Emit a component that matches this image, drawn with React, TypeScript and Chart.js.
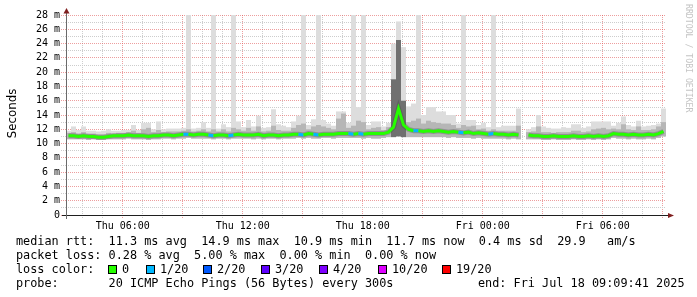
import React, { useEffect, useRef } from "react";
import { Chart, registerables } from "chart.js";

Chart.register(...registerables);

// ---------- time axis (hours since Thu 00:00) ----------
const START_HOUR = 3 + 9 / 60 + 41 / 3600; // Thu 03:09:41
const SPAN_HOURS = 30;
const STEP_HOURS = 0.25; // one column = 15 minutes

const xTickHours = [6, 12, 18, 24, 30];
const xTickLabels = ["Thu 06:00", "Thu 12:00", "Thu 18:00", "Fri 00:00", "Fri 06:00"];
const yTickValues = [0, 2, 4, 6, 8, 10, 12, 14, 16, 18, 20, 22, 24, 26, 28];
const yTickLabels = ["0", "2 m", "4 m", "6 m", "8 m", "10 m", "12 m", "14 m", "16 m", "18 m", "20 m", "22 m", "24 m", "26 m", "28 m"];

// ---------- data (ms) ----------
const medianMs = [
  11.1, 11.1, 11.0, 11.1, 11.0, 11.0, 10.9, 10.9, 11.0, 11.1,
  11.1, 11.1, 11.2, 11.1, 11.1, 11.1, 11.0, 11.1, 11.1, 11.2,
  11.2, 11.1, 11.2, 11.3, 11.3, 11.2, 11.3, 11.3, 11.2, 11.1,
  11.2, 11.2, 11.1, 11.2, 11.3, 11.2, 11.2, 11.2, 11.3, 11.1,
  11.2, 11.2, 11.1, 11.2, 11.2, 11.3, 11.3, 11.2, 11.4, 11.3,
  11.2, 11.3, 11.3, 11.3, 11.4, 11.4, 11.4, 11.3, 11.4, 11.3,
  11.4, 11.4, 11.4, 11.4, 11.6, 12.3, 14.9, 12.6, 12.0, 11.8,
  11.8, 11.7, 11.8, 11.7, 11.8, 11.7, 11.6, 11.7, 11.6, 11.5,
  11.6, 11.4, 11.5, 11.4, 11.3, 11.4, 11.3, 11.3, 11.2, 11.3,
  11.2, null, 11.2, 11.1, 11.1, 11.0, 11.0, 11.1, 11.0, 11.0,
  11.0, 11.1, 11.0, 11.0, 11.1, 11.0, 11.1, 11.0, 11.1, 11.4,
  11.3, 11.3, 11.2, 11.3, 11.2, 11.2, 11.3, 11.2, 11.4, 11.7,
];

const lossCount = [
  0, 0, 0, 0, 0, 0, 0, 0, 0, 0,
  0, 0, 0, 0, 0, 0, 0, 0, 0, 0,
  0, 0, 0, 0, 1, 0, 0, 0, 0, 1,
  0, 0, 0, 1, 0, 0, 0, 0, 0, 0,
  0, 0, 0, 0, 0, 0, 0, 1, 0, 0,
  1, 0, 0, 0, 0, 0, 0, 1, 0, 1,
  0, 0, 0, 0, 0, 0, 0, 0, 0, 0,
  1, 0, 0, 0, 0, 0, 0, 0, 0, 1,
  0, 0, 0, 0, 0, 1, 0, 0, 0, 0,
  0, null, 0, 0, 0, 0, 0, 0, 0, 0,
  0, 0, 0, 0, 0, 0, 0, 0, 0, 0,
  0, 0, 0, 0, 0, 0, 0, 0, 0, 0,
];

const pingMin = [
  10.6, 10.6, 10.6, 10.6, 10.5, 10.6, 10.5, 10.5, 10.6, 10.6,
  10.6, 10.6, 10.7, 10.6, 10.6, 10.6, 10.5, 10.6, 10.6, 10.7,
  10.7, 10.6, 10.7, 10.7, 10.8, 10.7, 10.7, 10.7, 10.7, 10.6,
  10.7, 10.7, 10.6, 10.7, 10.7, 10.7, 10.7, 10.6, 10.7, 10.6,
  10.7, 10.7, 10.6, 10.7, 10.7, 10.7, 10.8, 10.7, 10.8, 10.7,
  10.7, 10.8, 10.8, 10.7, 10.8, 10.8, 10.8, 10.8, 10.8, 10.7,
  10.8, 10.7, 10.7, 10.8, 10.9, 10.9, 11.0, 10.9, 10.9, 10.9,
  10.9, 10.9, 10.9, 10.9, 10.9, 10.9, 10.8, 10.9, 10.8, 10.8,
  10.8, 10.7, 10.8, 10.7, 10.7, 10.7, 10.7, 10.7, 10.6, 10.7,
  10.6, null, 10.6, 10.6, 10.6, 10.5, 10.5, 10.6, 10.5, 10.5,
  10.5, 10.6, 10.5, 10.5, 10.6, 10.5, 10.6, 10.5, 10.6, 10.8,
  10.7, 10.7, 10.6, 10.7, 10.6, 10.6, 10.7, 10.6, 10.8, 11.0,
];

const pingQ3 = [
  11.5, 11.6, 11.4, 11.6, 11.4, 11.4, 11.3, 11.3, 11.5, 11.4,
  11.5, 11.5, 11.6, 11.8, 11.5, 12.0, 12.2, 11.6, 11.9, 11.6,
  11.7, 11.7, 11.7, 11.8, 12.0, 11.7, 11.8, 12.0, 11.7, 12.0,
  11.7, 12.0, 11.7, 12.2, 12.0, 11.8, 12.2, 11.8, 12.4, 11.7,
  11.8, 12.5, 11.9, 11.8, 11.8, 12.2, 12.6, 12.8, 12.0, 12.4,
  12.6, 12.4, 12.2, 12.0, 13.5, 14.2, 12.2, 12.5, 13.2, 13.0,
  12.0, 12.2, 12.3, 11.9, 12.3, 19.0, 24.5, 16.0, 13.0, 13.2,
  13.5, 12.8, 13.2, 13.0, 12.9, 12.8, 12.8, 12.6, 12.2, 12.6,
  12.4, 12.5, 12.0, 12.1, 11.8, 12.0, 11.8, 11.8, 11.8, 11.8,
  12.5, null, 11.6, 11.7, 12.4, 11.6, 11.6, 11.5, 11.6, 11.6,
  11.6, 11.8, 11.8, 11.6, 11.7, 12.0, 12.1, 12.2, 12.0, 12.1,
  12.0, 12.7, 12.0, 11.9, 12.4, 11.9, 11.9, 12.0, 12.4, 13.0,
];

const pingMax = [
  11.8, 12.4, 11.9, 12.4, 11.8, 11.8, 11.7, 11.8, 12.0, 11.8,
  11.8, 11.9, 11.9, 12.6, 11.9, 12.9, 12.9, 12.0, 13.1, 12.0,
  12.1, 12.1, 12.1, 12.2, 28.5, 12.1, 12.2, 13.0, 12.2, 28.5,
  12.1, 12.7, 12.3, 28.5, 13.1, 12.3, 13.3, 12.4, 13.9, 12.2,
  12.3, 14.8, 12.7, 12.5, 12.3, 13.1, 13.9, 28.5, 12.6, 13.4,
  28.5, 13.3, 12.8, 12.5, 14.5, 14.5, 12.9, 28.5, 15.1, 28.5,
  12.6, 13.1, 13.1, 12.4, 12.9, 24.0, 27.1, 23.5, 15.2, 15.6,
  28.5, 14.0, 15.1, 15.1, 14.5, 14.5, 14.0, 14.0, 12.8, 28.5,
  13.3, 13.3, 12.6, 12.9, 12.3, 28.5, 12.3, 12.5, 12.5, 12.5,
  14.9, null, 12.0, 12.3, 14.0, 12.4, 12.2, 12.1, 12.1, 12.3,
  12.2, 12.7, 12.7, 12.2, 12.4, 13.1, 13.1, 13.1, 13.1, 12.5,
  12.9, 13.8, 12.6, 12.4, 13.2, 12.4, 12.5, 12.6, 12.8, 14.9,
];

// ---------- legend ----------
const lossThresholds = [0, 1, 2, 3, 4, 10, 19];
const lossLabels = ["0", "1/20", "2/20", "3/20", "4/20", "10/20", "19/20"];
const lossColors = ["#26ff00", "#00b8ff", "#0059ff", "#5e00ff", "#7e00ff", "#dd00ff", "#ff0000"];

const statLine1 = "median rtt:  11.3 ms avg  14.9 ms max  10.9 ms min  11.7 ms now  0.4 ms sd  29.9   am/s";
const statLine2 = "packet loss: 0.28 % avg  5.00 % max  0.00 % min  0.00 % now";
const lossTitle = "loss color:";
const probeLine = "probe:       20 ICMP Echo Pings (56 Bytes) every 300s";
const endLine = "end: Fri Jul 18 09:09:41 2025";
const yTitle = "Seconds";
const watermark = "RRDTOOL / TOBI OETIKER";

const MONO = "'DejaVu Sans Mono', monospace";
const SANS = "'DejaVu Sans', sans-serif";
const GRID_MINOR = "#cdcdcd";
const GRID_MAJOR = "rgba(222,79,79,0.55)";

function lossColor(n: number | null): string {
  let c = lossColors[0];
  if (n == null) return c;
  for (let k = 0; k < lossThresholds.length; k++) if (n >= lossThresholds[k]) c = lossColors[k];
  return c;
}

const decorPlugin = {
  id: "smokepingDecor",
  afterDraw(chart: any) {
    const { ctx, chartArea: a } = chart;
    ctx.save();
    // axes
    ctx.lineWidth = 1;
    ctx.strokeStyle = "#1f1f1f";
    ctx.beginPath();
    ctx.moveTo(a.left - 4, a.bottom + 0.5);
    ctx.lineTo(a.right + 2, a.bottom + 0.5);
    ctx.stroke();
    ctx.strokeStyle = "#6a6a6a";
    ctx.beginPath();
    ctx.moveTo(a.left + 0.5, a.bottom + 4);
    ctx.lineTo(a.left + 0.5, a.top - 2);
    ctx.stroke();
    // arrows
    ctx.fillStyle = "rgb(128,31,31)";
    ctx.beginPath();
    ctx.moveTo(a.right + 2, a.bottom - 2);
    ctx.lineTo(a.right + 8, a.bottom + 0.5);
    ctx.lineTo(a.right + 2, a.bottom + 3);
    ctx.closePath();
    ctx.fill();
    ctx.beginPath();
    ctx.moveTo(a.left - 2.5, a.top - 1.5);
    ctx.lineTo(a.left + 0.5, a.top - 7);
    ctx.lineTo(a.left + 3.5, a.top - 1.5);
    ctx.closePath();
    ctx.fill();

    // y title
    ctx.save();
    ctx.fillStyle = "#000";
    ctx.font = `11.8px ${SANS}`;
    ctx.translate(15.5, 113.5);
    ctx.rotate(-Math.PI / 2);
    ctx.textAlign = "center";
    ctx.textBaseline = "alphabetic";
    ctx.fillText(yTitle, 0, 0);
    ctx.restore();

    // watermark
    ctx.save();
    ctx.fillStyle = "#c4c4c4";
    ctx.font = `8.2px ${MONO}`;
    ctx.translate(688, 4);
    ctx.rotate(Math.PI / 2);
    ctx.textAlign = "left";
    ctx.textBaseline = "middle";
    ctx.fillText(watermark, 0, 0);
    ctx.restore();

    // legend
    ctx.fillStyle = "#000";
    ctx.font = `11.83px ${MONO}`;
    ctx.textAlign = "left";
    ctx.textBaseline = "alphabetic";
    ctx.fillText(statLine1, 16, 245);
    ctx.fillText(statLine2, 16, 259);
    ctx.fillText(lossTitle, 16, 273);
    ctx.fillText(probeLine, 16, 287);
    ctx.fillText(endLine, 478, 287);
    const boxX = [108, 146, 203, 261, 319, 378, 442];
    for (let k = 0; k < lossLabels.length; k++) {
      ctx.fillStyle = lossColors[k];
      ctx.fillRect(boxX[k] + 1, 266, 7, 7);
      ctx.strokeStyle = "#000";
      ctx.lineWidth = 1;
      ctx.strokeRect(boxX[k] + 0.5, 265.5, 8, 8);
      ctx.fillStyle = "#000";
      ctx.fillText(lossLabels[k], boxX[k] + 14, 273);
    }
    ctx.restore();
  },
};

export default function App() {
  const ref = useRef<HTMLCanvasElement>(null);

  useEffect(() => {
    document.body.style.margin = "0";
    const canvas = ref.current;
    if (!canvas) return;

    const stepHour = (i: number) => START_HOUR + (i + 0.5) * STEP_HOURS;
    const band = (lo: (number | null)[], hi: (number | null)[]) => {
      const out: any[] = [];
      lo.forEach((v, i) => {
        if (v != null && hi[i] != null) out.push({ x: stepHour(i), y: [v, hi[i]] });
      });
      return out;
    };
    const medianPts = medianMs.map((v, i) => ({ x: stepHour(i), y: v }));

    const gridHours: number[] = [];
    for (let h = Math.ceil(START_HOUR); h <= START_HOUR + SPAN_HOURS; h++) gridHours.push(h);
    const gridMs: number[] = [];
    for (let v = 0; v <= 28; v++) gridMs.push(v);

    const chart = new Chart(canvas, {
      type: "bar",
      data: {
        datasets: [
          {
            type: "bar",
            label: "smoke max",
            data: band(pingMin, pingMax),
            backgroundColor: "#dddddd",
            borderWidth: 0,
            grouped: false,
            barPercentage: 1,
            categoryPercentage: 1,
            inflateAmount: 0,
            order: 4,
          } as any,
          {
            type: "bar",
            label: "smoke q3",
            data: band(pingMin, pingQ3),
            backgroundColor: (c: any) => {
              const r = c.raw;
              const tall = r && Array.isArray(r.y) && r.y[1] - r.y[0] > 5;
              return tall ? "#707070" : "#b6b6b6";
            },
            borderWidth: 0,
            grouped: false,
            barPercentage: 1,
            categoryPercentage: 1,
            inflateAmount: 0,
            order: 3,
          } as any,
          {
            type: "line",
            label: "median shadow",
            data: medianPts,
            borderColor: "rgba(60,60,60,0.3)",
            borderWidth: 5,
            pointRadius: 0,
            tension: 0,
            spanGaps: false,
            order: 2,
          } as any,
          {
            type: "line",
            label: "median rtt",
            data: medianPts,
            borderColor: lossColors[0],
            borderWidth: 3,
            pointRadius: 0,
            tension: 0,
            spanGaps: false,
            borderCapStyle: "butt",
            segment: {
              borderColor: (c: any) => lossColor(lossCount[c.p1DataIndex] as number),
            },
            order: 1,
          } as any,
        ],
      },
      options: {
        responsive: false,
        animation: false,
        devicePixelRatio: 1,
        layout: { padding: { left: 0, right: 31, top: 15, bottom: 0 } },
        plugins: { legend: { display: false }, tooltip: { enabled: false }, title: { display: false } },
        scales: {
          x: {
            type: "linear",
            min: START_HOUR,
            max: START_HOUR + SPAN_HOURS,
            offset: false,
            afterBuildTicks: (s: any) => {
              s.ticks = gridHours.map((v) => ({ value: v }));
            },
            afterFit: (s: any) => {
              s.height = 82;
            },
            grid: {
              offset: false,
              color: (c: any) => (c.tick && c.tick.value % 3 === 0 ? GRID_MAJOR : GRID_MINOR),
              lineWidth: 1,
              drawTicks: true,
              tickLength: 3,
              tickBorderDash: [1, 1],
            },
            border: { display: false, dash: [1, 1] },
            ticks: {
              autoSkip: false,
              maxRotation: 0,
              minRotation: 0,
              padding: 2,
              color: "#000",
              font: { family: MONO, size: 10 },
              callback: (v: any) => {
                const k = xTickHours.indexOf(Number(v));
                return k >= 0 ? xTickLabels[k] : "";
              },
            },
          },
          y: {
            type: "linear",
            min: 0,
            max: 28,
            afterBuildTicks: (s: any) => {
              s.ticks = gridMs.map((v) => ({ value: v }));
            },
            afterFit: (s: any) => {
              s.width = 66;
            },
            grid: {
              color: (c: any) => (c.tick && c.tick.value % 2 === 0 ? GRID_MAJOR : GRID_MINOR),
              lineWidth: 1,
              drawTicks: true,
              tickLength: 5,
              tickBorderDash: [1, 1],
            },
            border: { display: false, dash: [1, 1] },
            ticks: {
              autoSkip: false,
              padding: 1,
              color: "#000",
              font: { family: MONO, size: 10 },
              callback: (v: any) => {
                const k = yTickValues.indexOf(Number(v));
                return k >= 0 ? yTickLabels[k] : "";
              },
            },
          },
        },
      },
      plugins: [decorPlugin],
    } as any);

    return () => chart.destroy();
  }, []);

  return (
    <div style={{ position: "absolute", left: 0, top: 0, width: 697, height: 297, background: "#fff" }}>
      <canvas ref={ref} width={697} height={297} style={{ display: "block", width: 697, height: 297 }} />
    </div>
  );
}
